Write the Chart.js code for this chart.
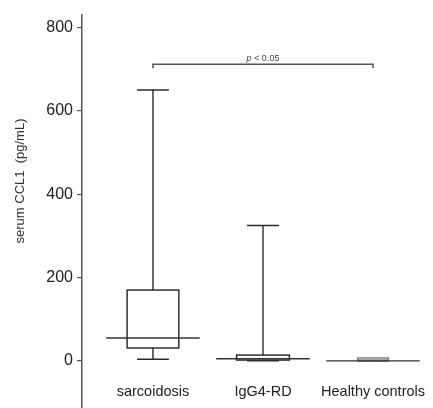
<!DOCTYPE html>
<html>
<head>
<meta charset="utf-8">
<script src="https://cdn.jsdelivr.net/npm/chart.js@4/dist/chart.umd.min.js"></script>
<style>
  html, body { margin: 0; padding: 0; background: #fff; }
</style>
</head>
<body>
<canvas id="chart" width="433" height="408"></canvas>
<script>
'use strict';

// groups and box-plot summary values (pg/mL)
const categories  = ['sarcoidosis', 'IgG4-RD', 'Healthy controls'];
const whiskerLow  = [4, 0, 0];
const q1          = [31, 2, 2];
const medians     = [55, 5, 0];
const q3          = [170, 14, 7];
const whiskerHigh = [650, 325, 7];
const yTicks      = [0, 200, 400, 600, 800];

// significance bracket between group 0 and group 2
const bracketFrom = 0, bracketTo = 2, bracketValue = 712;
const bracketText = '< 0.05';

// drawing styles (widths in x-axis units, one category = 1)
const BOX_W    = [0.47, 0.48, 0.28];
const MEDIAN_W = 0.85;
const CAP_W    = 0.29;
const FONT     = '"Liberation Sans", Arial, Helvetica, sans-serif';

const boxPlot = {
  id: 'boxPlot',
  afterDatasetsDraw(chart) {
    const { ctx, scales: { x, y } } = chart;
    const px = v => x.getPixelForValue(v);
    const py = v => y.getPixelForValue(v);
    ctx.save();
    ctx.lineCap = 'butt';

    categories.forEach((_, i) => {
      const hw = BOX_W[i] / 2;
      // whiskers + caps
      ctx.strokeStyle = '#2b2b2b';
      ctx.lineWidth = 1.4;
      ctx.beginPath();
      ctx.moveTo(px(i), py(q3[i]));      ctx.lineTo(px(i), py(whiskerHigh[i]));
      ctx.moveTo(px(i), py(q1[i]));      ctx.lineTo(px(i), py(whiskerLow[i]));
      if (whiskerHigh[i] > q3[i] + 1) {
        ctx.moveTo(px(i - CAP_W / 2), py(whiskerHigh[i])); ctx.lineTo(px(i + CAP_W / 2), py(whiskerHigh[i]));
      }
      if (whiskerLow[i] < q1[i] - 1) {
        ctx.moveTo(px(i - CAP_W / 2), py(whiskerLow[i])); ctx.lineTo(px(i + CAP_W / 2), py(whiskerLow[i]));
      }
      ctx.stroke();
      // box
      ctx.fillStyle = '#fff';
      const bx = px(i - hw), bw = px(i + hw) - bx;
      const by = py(q3[i]), bh = py(q1[i]) - by;
      ctx.fillRect(bx, by, bw, bh);
      ctx.strokeStyle = i === 2 ? '#777' : '#222';
      ctx.lineWidth = 1.4;
      ctx.strokeRect(bx, by, bw, bh);
      // median
      ctx.strokeStyle = '#333';
      ctx.lineWidth = 1.4;
      ctx.beginPath();
      ctx.moveTo(px(i - MEDIAN_W / 2), py(medians[i]));
      ctx.lineTo(px(i + MEDIAN_W / 2), py(medians[i]));
      ctx.stroke();
    });

    // bracket
    const bY = py(bracketValue);
    ctx.strokeStyle = '#555';
    ctx.lineWidth = 1.5;
    ctx.beginPath();
    ctx.moveTo(px(bracketFrom), bY + 4);
    ctx.lineTo(px(bracketFrom), bY);
    ctx.lineTo(px(bracketTo), bY);
    ctx.lineTo(px(bracketTo), bY + 4);
    ctx.stroke();
    ctx.fillStyle = '#444';
    ctx.textBaseline = 'bottom';
    ctx.textAlign = 'left';
    const mid = px((bracketFrom + bracketTo) / 2);
    ctx.font = '9px ' + FONT;
    const restW = ctx.measureText(' ' + bracketText).width;
    ctx.font = 'italic 9px ' + FONT;
    const pW = ctx.measureText('p').width;
    const x0 = mid - (pW + restW) / 2;
    ctx.fillText('p', x0, bY - 1);
    ctx.font = '9px ' + FONT;
    ctx.fillText(' ' + bracketText, x0 + pW, bY - 1);

    // category labels under the boxes
    ctx.textAlign = 'center';
    ctx.fillStyle = '#222';
    ctx.font = '14.5px ' + FONT;
    ctx.textBaseline = 'middle';
    categories.forEach((c, i) => ctx.fillText(c, px(i), py(-75)));

    // y axis title
    ctx.save();
    ctx.translate(20, 181);
    ctx.rotate(-Math.PI / 2);
    ctx.font = '13px ' + FONT;
    ctx.fillStyle = '#333';
    ctx.textAlign = 'center';
    ctx.fillText('serum CCL1  (pg/mL)', 0, 0);
    ctx.restore();

    ctx.restore();
  }
};

new Chart(document.getElementById('chart'), {
  type: 'scatter',
  data: {
    datasets: [{
      data: medians.map((m, i) => ({ x: i, y: m })),
      pointRadius: 0,
      showLine: false
    }]
  },
  options: {
    responsive: false,
    animation: false,
    layout: { padding: { top: 15, right: 0, bottom: 0, left: 0 } },
    plugins: { legend: { display: false }, tooltip: { enabled: false } },
    scales: {
      x: {
        type: 'linear',
        display: false,
        min: -0.645,
        max: 2.545
      },
      y: {
        min: -113,
        max: 830,
        afterBuildTicks: s => { s.ticks = yTicks.map(v => ({ value: v })); },
        afterFit: s => { s.width = 82; s.paddingTop = 0; s.paddingBottom = 0; },
        border: { display: true, color: '#555', width: 1.5 },
        grid: { drawOnChartArea: false, drawTicks: true, tickLength: 5, color: '#555', lineWidth: 1.2 },
        ticks: { color: '#222', padding: 4, font: { family: FONT, size: 16 } }
      }
    }
  },
  plugins: [boxPlot]
});
</script>
</body>
</html>
